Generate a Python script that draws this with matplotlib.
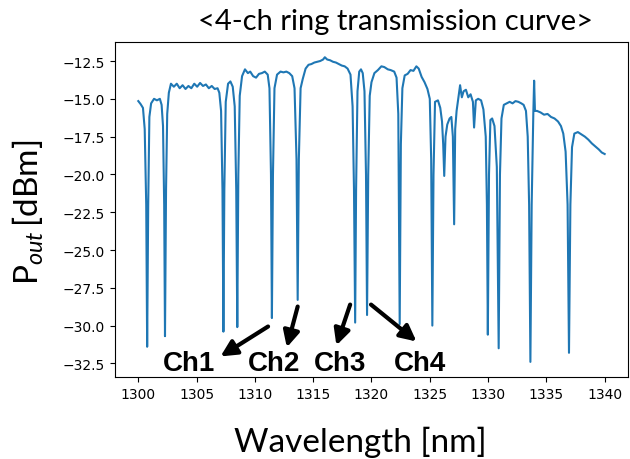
import matplotlib
matplotlib.use("Agg")
import matplotlib.pyplot as plt

# Measured ring transmission spectrum (wavelength in nm, output power in dBm)
wavelength = [
    1300.00, 1300.20, 1300.40, 1300.55, 1300.68, 1300.76, 1300.85, 1300.95, 1301.10, 1301.35,
    1301.60, 1301.85, 1302.00, 1302.12, 1302.22, 1302.29, 1302.38, 1302.48, 1302.62, 1302.80,
    1303.05, 1303.30, 1303.55, 1303.80, 1304.05, 1304.30, 1304.55, 1304.80, 1305.05, 1305.30,
    1305.55, 1305.80, 1306.05, 1306.30, 1306.55, 1306.80, 1306.95, 1307.10, 1307.22, 1307.30,
    1307.38, 1307.50, 1307.70, 1307.90, 1308.10, 1308.27, 1308.40, 1308.49, 1308.58, 1308.70,
    1308.90, 1309.15, 1309.40, 1309.60, 1309.85, 1310.10, 1310.35, 1310.60, 1310.85, 1311.10,
    1311.25, 1311.38, 1311.46, 1311.55, 1311.68, 1311.90, 1312.20, 1312.45, 1312.70, 1312.95,
    1313.20, 1313.40, 1313.57, 1313.67, 1313.77, 1313.92, 1314.10, 1314.35, 1314.60, 1314.85,
    1315.10, 1315.35, 1315.60, 1315.85, 1316.00, 1316.20, 1316.45, 1316.70, 1316.95, 1317.20,
    1317.45, 1317.70, 1317.95, 1318.20, 1318.38, 1318.50, 1318.60, 1318.68, 1318.80, 1318.95,
    1319.10, 1319.25, 1319.40, 1319.53, 1319.62, 1319.72, 1319.85, 1320.00, 1320.25, 1320.55,
    1320.85, 1321.10, 1321.40, 1321.65, 1321.95, 1322.15, 1322.30, 1322.42, 1322.52, 1322.65,
    1322.85, 1323.10, 1323.35, 1323.60, 1323.85, 1324.05, 1324.30, 1324.55, 1324.80, 1325.00,
    1325.12, 1325.22, 1325.32, 1325.45, 1325.70, 1325.90, 1326.05, 1326.15, 1326.24, 1326.35,
    1326.50, 1326.70, 1326.85, 1326.98, 1327.09, 1327.18, 1327.30, 1327.50, 1327.60, 1327.75,
    1327.90, 1328.10, 1328.30, 1328.50, 1328.70, 1328.80, 1328.95, 1329.15, 1329.40, 1329.60,
    1329.80, 1329.90, 1329.98, 1330.08, 1330.20, 1330.35, 1330.55, 1330.75, 1330.91, 1331.02,
    1331.15, 1331.35, 1331.60, 1331.85, 1332.10, 1332.35, 1332.60, 1332.85, 1333.05, 1333.25,
    1333.40, 1333.52, 1333.63, 1333.74, 1333.88, 1333.95, 1334.02, 1334.20, 1334.50, 1334.80,
    1335.10, 1335.40, 1335.70, 1336.00, 1336.25, 1336.45, 1336.65, 1336.82, 1336.94, 1337.06,
    1337.20, 1337.40, 1337.70, 1338.00, 1338.30, 1338.60, 1338.90, 1339.20, 1339.50, 1339.75,
    1340.00,
]
power_dbm = [
    -15.15, -15.35, -15.60, -17.00, -22.00, -31.40, -22.00, -16.20, -15.30, -15.00,
    -15.10, -15.00, -15.40, -16.80, -22.00, -30.70, -21.00, -16.00, -14.60, -14.00,
    -14.20, -14.00, -14.30, -14.10, -14.35, -14.15, -14.30, -14.00, -14.20, -13.95,
    -14.15, -14.05, -14.30, -14.15, -14.35, -14.30, -14.60, -15.80, -21.00, -30.40,
    -21.00, -15.20, -14.00, -13.85, -14.20, -15.50, -21.00, -30.10, -20.00, -14.80,
    -13.50, -13.05, -13.30, -13.20, -13.50, -13.60, -13.35, -13.30, -13.20, -13.40,
    -14.30, -20.00, -29.50, -20.00, -14.30, -13.40, -13.20, -13.25, -13.20, -13.30,
    -13.50, -14.30, -19.00, -28.30, -19.00, -14.30, -13.70, -13.00, -12.75, -12.70,
    -12.60, -12.55, -12.50, -12.40, -12.25, -12.40, -12.45, -12.55, -12.60, -12.70,
    -12.80, -12.85, -13.00, -13.40, -15.50, -21.00, -29.80, -21.00, -14.50, -13.20,
    -13.05, -13.30, -14.50, -20.00, -29.30, -20.00, -14.80, -13.90, -13.30, -13.10,
    -12.85, -12.90, -13.05, -13.10, -13.20, -13.60, -16.00, -29.90, -18.00, -14.30,
    -13.45, -13.35, -13.10, -13.15, -12.85, -13.00, -13.55, -13.90, -14.35, -15.00,
    -19.00, -30.00, -20.00, -15.20, -15.10, -15.60, -16.50, -18.00, -20.10, -17.50,
    -16.70, -16.30, -16.20, -17.50, -23.30, -17.00, -15.80, -14.70, -14.10, -14.90,
    -14.50, -14.40, -14.90, -14.70, -15.20, -16.90, -15.10, -15.00, -15.10, -15.70,
    -17.50, -22.00, -30.60, -20.00, -16.40, -16.30, -16.80, -19.50, -31.50, -20.00,
    -16.30, -15.40, -15.30, -15.20, -15.30, -15.15, -15.20, -15.30, -15.40, -15.80,
    -17.50, -22.00, -32.40, -22.00, -16.00, -13.80, -15.80, -15.80, -15.90, -16.05,
    -16.00, -16.20, -16.30, -16.50, -16.80, -17.30, -18.50, -22.00, -31.80, -22.00,
    -18.20, -17.30, -17.20, -17.35, -17.50, -17.70, -17.95, -18.15, -18.35, -18.55,
    -18.65,
]

channel_labels = ["Ch1", "Ch2", "Ch3", "Ch4"]

plt.rcParams["mathtext.fontset"] = "custom"
plt.rcParams["mathtext.rm"] = "Lato"
plt.rcParams["mathtext.it"] = "Lato:italic"

fig = plt.figure(figsize=(6.3, 4.6), dpi=100)
ax = fig.add_axes([0.1825, 0.178, 0.8143, 0.7285])

ax.plot(wavelength, power_dbm, color="#1f77b4", linewidth=1.5)
ax.set_xticks([1300, 1305, 1310, 1315, 1320, 1325, 1330, 1335, 1340])
ax.set_yticks([-12.5, -15.0, -17.5, -20.0, -22.5, -25.0, -27.5, -30.0, -32.5])

# Channel labels and arrows pointing from the resonances
label_pos = [(1304.37, -32.47), (1311.68, -32.47), (1317.33, -32.47), (1324.2, -32.47)]
arrow_tail = [(1311.13, -30.06), (1313.67, -28.74), (1318.17, -28.61), (1319.96, -28.61)]
arrow_head = [(1307.05, -32.04), (1312.74, -31.44), (1316.99, -31.31), (1323.86, -31.05)]

for name, (lx, ly), tail, head in zip(channel_labels, label_pos, arrow_tail, arrow_head):
    ax.text(lx, ly, name, ha="center", va="center", fontsize=20,
            fontweight="bold", family="Liberation Sans", color="black")
    ax.annotate("", xy=head, xytext=tail,
                arrowprops=dict(arrowstyle="-|>", color="black", lw=3,
                                mutation_scale=24, shrinkA=0, shrinkB=0))

fig.text(396 / 630, 1 - 30 / 460, "<4-ch ring transmission curve>",
         ha="center", va="baseline", fontsize=21, family="Lato")
fig.text(360 / 630, 1 - 452 / 460, "Wavelength [nm]",
         ha="center", va="baseline", fontsize=24, family="Lato")
fig.text(28 / 630, 1 - 212 / 460, r"P$_{out}\,$[dBm]",
         ha="center", va="center", rotation=90, fontsize=24, family="Lato")

fig.savefig("out.png", dpi=100)
